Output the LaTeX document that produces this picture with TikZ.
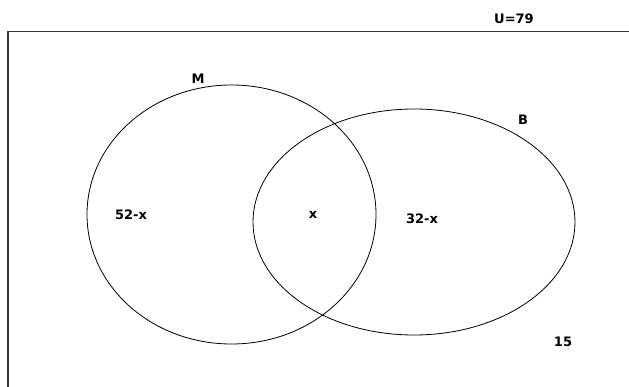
\documentclass[tikz,border=0pt]{standalone}
\usepackage{fontspec}
\setmainfont{DejaVu Sans}
\begin{document}
\begin{tikzpicture}[x=1pt,y=-1pt,line cap=round,line join=round,
    setlabel/.style={inner sep=0pt,font=\fontsize{13}{15}\selectfont\bfseries}]
  \useasboundingbox (0,0) rectangle (629,387);
  \clip (0,0) rectangle (629,387);
  \draw[line width=1.3pt,black!80] (8,31.5) rectangle (660,420);
  \draw[line width=0.8pt] (231.5,214.5) ellipse[x radius=144.5,y radius=129.5];
  \draw[line width=0.8pt] (414,222) ellipse[x radius=161,y radius=113];
  \node[setlabel] (univ) at (514,19) {U=79};
  \node[setlabel] (setM) at (198,79) {M};
  \node[setlabel] (setB) at (523,120) {B};
  \node[setlabel] (onlyM) at (131,215) {52-x};
  \node[setlabel] (both) at (313,215) {x};
  \node[setlabel] (onlyB) at (422,219) {32-x};
  \node[setlabel] (none) at (563,342) {15};
\end{tikzpicture}
\end{document}
